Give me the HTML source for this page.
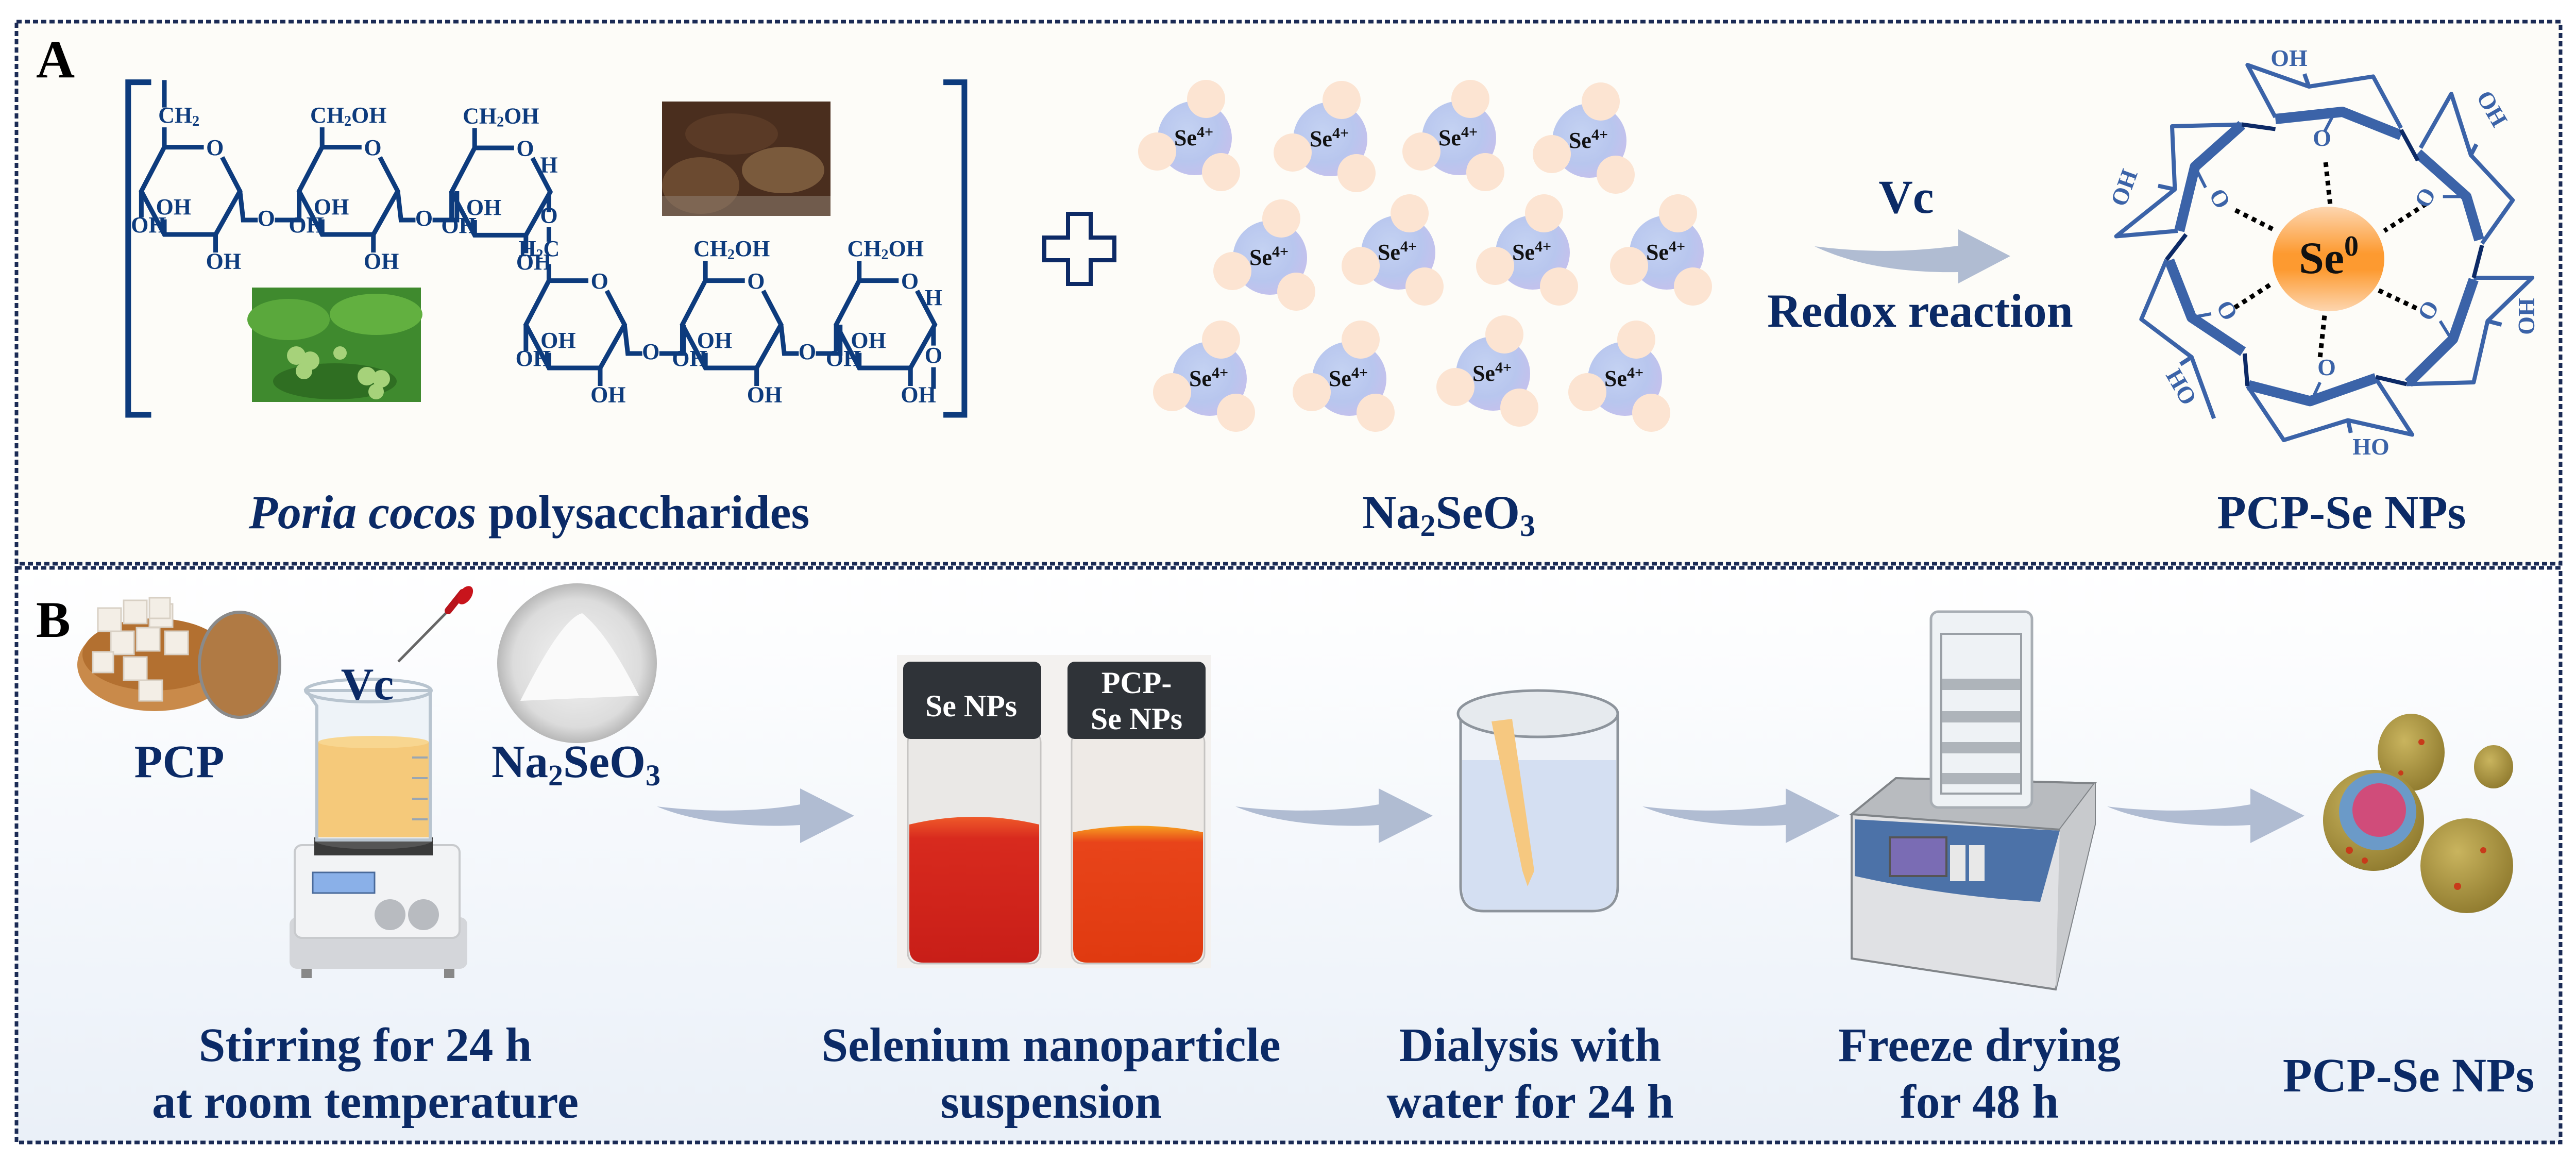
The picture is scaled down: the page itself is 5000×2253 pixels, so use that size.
<!DOCTYPE html>
<html><head><meta charset="utf-8"><style>html,body{margin:0;padding:0;background:#fff}svg{display:block}</style></head><body>
<svg xmlns="http://www.w3.org/2000/svg" width="5000" height="2253" viewBox="0 0 5000 2253" font-family="'Liberation Serif', serif" font-weight="bold">
<defs>
<linearGradient id="bgB" x1="0" y1="0" x2="0" y2="1"><stop offset="0" stop-color="#ffffff"/><stop offset="1" stop-color="#eaf0f8"/></linearGradient>
<radialGradient id="seblue" cx="0.4" cy="0.4" r="0.7"><stop offset="0" stop-color="#c4d2f2"/><stop offset="0.6" stop-color="#b8c6ee"/><stop offset="1" stop-color="#c8bfec"/></radialGradient>
<linearGradient id="se0" x1="0" y1="0" x2="0" y2="1"><stop offset="0" stop-color="#fdd6b0"/><stop offset="0.45" stop-color="#fd9a30"/><stop offset="0.6" stop-color="#fd9a30"/><stop offset="1" stop-color="#fdd6b0"/></linearGradient>
<radialGradient id="gold" cx="0.4" cy="0.35" r="0.7"><stop offset="0" stop-color="#c9b45e"/><stop offset="1" stop-color="#8f7a2e"/></radialGradient>
<radialGradient id="powder" cx="0.5" cy="0.5" r="0.5"><stop offset="0" stop-color="#f4f4f4"/><stop offset="0.8" stop-color="#dcdcdc"/><stop offset="1" stop-color="#b8b8b8"/></radialGradient>
<linearGradient id="red1" x1="0" y1="0" x2="0" y2="1"><stop offset="0" stop-color="#ef5a2a"/><stop offset="0.15" stop-color="#d82a1e"/><stop offset="1" stop-color="#c81e18"/></linearGradient>
<linearGradient id="red2" x1="0" y1="0" x2="0" y2="1"><stop offset="0" stop-color="#f7a020"/><stop offset="0.12" stop-color="#e8441a"/><stop offset="1" stop-color="#e03a10"/></linearGradient>
<g id="ring" fill="none" stroke="#0d3b7d" stroke-width="9" vector-effect="non-scaling-stroke">
  <path d="M0,0 L60,0 M88,28 L115,122 L78,242 L0,242 L-35,122 L0,0" vector-effect="non-scaling-stroke"/>
  <path d="M78,242 L78,292 M-35,122 L-35,195 M0,200 L0,242" vector-effect="non-scaling-stroke"/>
</g>
<g id="ringtxt" fill="#0d3b7d" stroke="none" font-size="44" text-anchor="middle">
  <text transform="translate(77,22) scale(.784,1.429)">O</text>
  <text transform="translate(90,337) scale(.784,1.429)">OH</text>
  <text transform="translate(14,186) scale(.784,1.429)">OH</text>
  <text transform="translate(-24,236) scale(.784,1.429)">OH</text>
</g>
<g id="link" fill="none" stroke="#0d3b7d">
  <path d="M115,122 L120,202 L142,202 M168,202 L205,202 L205,122" stroke-width="9" vector-effect="non-scaling-stroke"/>
  <text transform="translate(155,218) scale(.784,1.429)" fill="#0d3b7d" stroke="none" font-size="44" text-anchor="middle">O</text>
</g>
<g id="ch2oh">
  <path d="M0,0 L0,-55" stroke="#0d3b7d" stroke-width="9" vector-effect="non-scaling-stroke"/>
  <text transform="translate(40,-68) scale(.784,1.429)" fill="#0d3b7d" font-size="44" text-anchor="middle">CH<tspan font-size="28" dy="6">2</tspan><tspan dy="-6">OH</tspan></text>
</g>
<g id="se4">
  <circle cx="0" cy="0" r="72" fill="url(#seblue)"/>
  <circle cx="22" cy="-76" r="37" fill="#fce4d2"/>
  <circle cx="-73" cy="26" r="37" fill="#fce4d2"/>
  <circle cx="51" cy="66" r="37" fill="#fce4d2"/>
  <text x="-2" y="14" font-size="44" text-anchor="middle" fill="#111">Se<tspan font-size="30" dy="-16">4+</tspan></text>
</g>
<path id="arr" d="M0,-18 C100,-6 200,-8 278,-22 L278,-53 L383,0 L278,53 L278,18 C180,24 70,12 0,-18 Z" fill="#b0bcd2"/>
</defs>

<rect x="32" y="42" width="4938" height="1052" fill="#fdfcf8"/>
<rect x="32" y="1102" width="4938" height="1115" fill="url(#bgB)"/>
<rect x="32" y="42" width="4938" height="1052" fill="none" stroke="#1b2b55" stroke-width="7" stroke-dasharray="10 6"/>
<rect x="32" y="1102" width="4938" height="1115" fill="none" stroke="#1b2b55" stroke-width="7" stroke-dasharray="10 6"/>

<text x="70" y="150" font-size="104" fill="#000">A</text>
<text x="70" y="1236" font-size="100" fill="#000">B</text>

<rect x="1285" y="197" width="327" height="222" fill="#4a2e1e"/>
<ellipse cx="1360" cy="360" rx="75" ry="55" fill="#6b4a30"/>
<ellipse cx="1520" cy="330" rx="80" ry="45" fill="#7a5a3c"/>
<ellipse cx="1420" cy="260" rx="90" ry="40" fill="#5a3a26"/>
<rect x="1285" y="380" width="327" height="39" fill="#8a7a6a" opacity="0.6"/>
<rect x="489" y="558" width="328" height="222" fill="#3f8a2e"/>
<ellipse cx="560" cy="620" rx="80" ry="40" fill="#5aa83c"/>
<ellipse cx="730" cy="610" rx="90" ry="40" fill="#62b040"/>
<ellipse cx="650" cy="740" rx="120" ry="35" fill="#2f6e22"/>
<g fill="#a6d27a"><circle cx="575" cy="690" r="18"/><circle cx="602" cy="700" r="18"/><circle cx="590" cy="720" r="16"/><circle cx="660" cy="685" r="13"/><circle cx="712" cy="730" r="18"/><circle cx="740" cy="735" r="17"/><circle cx="730" cy="760" r="15"/></g>

<g transform="scale(1.276,0.7)">
  <path d="M230,228 L195,228 L195,1150 L230,1150 M1435,228 L1467,228 L1467,1150 L1435,1150" fill="none" stroke="#0d3b7d" stroke-width="11" vector-effect="non-scaling-stroke"/>
  <g transform="translate(250,408)"><use href="#ring"/><use href="#ringtxt"/><use href="#link"/>
    <path d="M0,0 L0,-55 M0,-110 L0,-186" stroke="#0d3b7d" stroke-width="9" vector-effect="non-scaling-stroke"/>
    <text transform="translate(22,-68) scale(.784,1.429)" fill="#0d3b7d" font-size="44" text-anchor="middle">CH<tspan font-size="28" dy="6">2</tspan></text>
  </g>
  <g transform="translate(490,408)"><use href="#ring"/><use href="#ringtxt"/><use href="#link"/><use href="#ch2oh"/></g>
  <g transform="translate(722,410)"><use href="#ring"/><use href="#ringtxt"/><use href="#ch2oh"/>
    <path d="M113,128 L113,178 M113,220 L113,260 M113,322 L113,368" stroke="#0d3b7d" stroke-width="9" vector-effect="non-scaling-stroke"/>
    <text transform="translate(113,68) scale(.784,1.429)" fill="#0d3b7d" font-size="44" text-anchor="middle">H</text>
    <text transform="translate(113,208) scale(.784,1.429)" fill="#0d3b7d" font-size="44" text-anchor="middle">O</text>
    <text transform="translate(98,300) scale(.784,1.429)" fill="#0d3b7d" font-size="44" text-anchor="middle">H<tspan font-size="28" dy="6">2</tspan><tspan dy="-6">C</tspan></text>
  </g>
  <g transform="translate(835,778)"><use href="#ring"/><use href="#ringtxt"/><use href="#link"/></g>
  <g transform="translate(1073,778)"><use href="#ring"/><use href="#ringtxt"/><use href="#link"/><use href="#ch2oh"/></g>
  <g transform="translate(1307,778)"><use href="#ring"/><use href="#ringtxt"/><use href="#ch2oh"/>
    <path d="M113,128 L113,180 M113,240 L113,300" stroke="#0d3b7d" stroke-width="9" vector-effect="non-scaling-stroke"/>
    <text transform="translate(113,68) scale(.784,1.429)" fill="#0d3b7d" font-size="44" text-anchor="middle">H</text>
    <text transform="translate(113,228) scale(.784,1.429)" fill="#0d3b7d" font-size="44" text-anchor="middle">O</text>
  </g>
</g>

<text x="1027" y="1025" font-size="92" fill="#0b2a66" text-anchor="middle"><tspan font-style="italic">Poria cocos</tspan> polysaccharides</text>

<path d="M2073,415 h44 v46 h46 v44 h-46 v46 h-44 v-46 h-46 v-44 h46 z" fill="none" stroke="#0d2a66" stroke-width="8"/>

<use href="#se4" x="2319" y="268"/><use href="#se4" x="2582" y="270"/><use href="#se4" x="2832" y="268"/><use href="#se4" x="3085" y="273"/>
<use href="#se4" x="2465" y="500"/><use href="#se4" x="2714" y="490"/><use href="#se4" x="2975" y="490"/><use href="#se4" x="3235" y="490"/>
<use href="#se4" x="2348" y="735"/><use href="#se4" x="2619" y="735"/><use href="#se4" x="2898" y="725"/><use href="#se4" x="3154" y="735"/>

<text x="2812" y="1025" font-size="92" fill="#0b2a66" text-anchor="middle">Na<tspan font-size="60" dy="15">2</tspan><tspan dy="-15">SeO</tspan><tspan font-size="60" dy="15">3</tspan></text>

<text x="3700" y="413" font-size="92" fill="#0b2a66" text-anchor="middle">Vc</text>
<path d="M3522,478 C3620,490 3700,490 3801,477 L3801,445 L3902,497 L3801,550 L3801,528 C3680,530 3590,510 3522,478 Z" fill="#b0bcd2"/>
<text x="3727" y="634" font-size="92" fill="#0b2a66" text-anchor="middle">Redox reaction</text>

<g transform="translate(3300,0) scale(1.084,0.7)" fill="none" stroke-linejoin="round">
  <g stroke="#3b63a8" stroke-width="8">
    <path vector-effect="non-scaling-stroke" d="M1030,325 L980,180 L1090,240 L1205,212 L1255,355"/>
    <path vector-effect="non-scaling-stroke" d="M1290,410 L1345,260 L1380,430 L1455,555 L1400,675"/>
    <path vector-effect="non-scaling-stroke" d="M1385,770 L1490,770 L1410,890 L1385,1060 L1265,1065"/>
    <path vector-effect="non-scaling-stroke" d="M1210,1050 L1275,1205 L1160,1165 L1045,1220 L980,1070"/>
    <path vector-effect="non-scaling-stroke" d="M920,1160 L880,990 L790,885 L835,720"/>
    <path vector-effect="non-scaling-stroke" d="M855,640 L745,655 L850,525 L845,350 L970,345"/>
    <path vector-effect="non-scaling-stroke" d="M1090,240 L1082,205 M1380,430 L1390,400 M1410,890 L1435,900 M1160,1165 L1165,1200 M880,990 L860,1010 M850,525 L820,515"/>
  </g>
  <g stroke="#3b63a8" stroke-width="20">
    <path vector-effect="non-scaling-stroke" d="M1030,330 L1150,310 L1255,375"/>
    <path vector-effect="non-scaling-stroke" d="M1285,425 L1372,545 L1395,665"/>
    <path vector-effect="non-scaling-stroke" d="M1385,775 L1348,940 L1268,1062"/>
    <path vector-effect="non-scaling-stroke" d="M1210,1048 L1092,1112 L982,1068"/>
    <path vector-effect="non-scaling-stroke" d="M972,975 L880,880 L840,722"/>
    <path vector-effect="non-scaling-stroke" d="M858,640 L886,462 L970,346"/>
  </g>
  <g stroke="#0d2a66" stroke-width="8">
    <path vector-effect="non-scaling-stroke" d="M970,345 L1030,358 M1255,360 L1285,445 M1400,680 L1385,770 M1210,1045 L1265,1065 M975,980 L980,1070 M835,720 L870,650"/>
  </g>
  <g stroke="#3b63a8" stroke-width="6">
    <path vector-effect="non-scaling-stroke" d="M1135,315 L1118,365 M1330,545 L1375,545 M1345,940 L1325,890 M1095,1110 L1110,1060 M880,880 L915,870 M886,462 L905,520"/>
  </g>
  <g stroke="#000" stroke-width="9" stroke-dasharray="9 9">
    <path vector-effect="non-scaling-stroke" d="M1120,450 L1128,565 M1300,565 L1225,640 M1215,805 L1290,860 M1118,875 L1110,990 M1020,790 L955,855 M1025,635 L955,580"/>
  </g>
  <ellipse cx="1125" cy="718" rx="100" ry="145" fill="url(#se0)"/>
</g>
<g fill="#3b63a8" font-size="46" text-anchor="middle">
  <text x="4507" y="283">O</text>
  <text x="4710" y="397" transform="rotate(-60 4710 385)">O</text>
  <text x="4716" y="616" transform="rotate(-60 4716 604)">O</text>
  <text x="4516" y="728">O</text>
  <text x="4320" y="616" transform="rotate(60 4320 604)">O</text>
  <text x="4306" y="399" transform="rotate(60 4306 387)">O</text>
  <text x="4443" y="128">OH</text>
  <text x="4835" y="225" transform="rotate(60 4835 212)">OH</text>
  <text x="4902" y="627" transform="rotate(90 4902 614)">HO</text>
  <text x="4602" y="882">HO</text>
  <text x="4232" y="765" transform="rotate(60 4232 752)">HO</text>
  <text x="4125" y="378" transform="rotate(-70 4125 365)">OH</text>
</g>
<text x="4520" y="530" font-size="88" fill="#111" text-anchor="middle">Se<tspan font-size="56" dy="-34">0</tspan></text>
<text x="4545" y="1025" font-size="92" fill="#0b2a66" text-anchor="middle">PCP-Se NPs</text>

<ellipse cx="300" cy="1290" rx="150" ry="90" fill="#c98a4a"/>
<ellipse cx="300" cy="1270" rx="140" ry="70" fill="#b37030"/>
<g fill="#f3eee6" stroke="#d8d0c4" stroke-width="3">
  <rect x="190" y="1180" width="45" height="45"/><rect x="240" y="1165" width="45" height="45"/><rect x="290" y="1172" width="45" height="45"/><rect x="215" y="1225" width="45" height="45"/><rect x="265" y="1218" width="45" height="45"/><rect x="320" y="1225" width="45" height="45"/><rect x="180" y="1265" width="40" height="40"/><rect x="240" y="1275" width="45" height="45"/><rect x="290" y="1160" width="40" height="40"/><rect x="270" y="1320" width="45" height="40"/>
</g>
<ellipse cx="465" cy="1290" rx="78" ry="102" fill="#b07a44" stroke="#8a8a8a" stroke-width="6"/>
<text x="348" y="1508" font-size="90" fill="#0b2a66" text-anchor="middle">PCP</text>

<rect x="562" y="1780" width="345" height="100" rx="14" fill="#d4d6da"/>
<rect x="572" y="1640" width="320" height="180" rx="14" fill="#f2f3f5" stroke="#c8cacd" stroke-width="4"/>
<rect x="607" y="1693" width="120" height="40" fill="#8ab0e8" stroke="#4a6a9a" stroke-width="3"/>
<circle cx="757" cy="1775" r="30" fill="#b8bbc0"/><circle cx="822" cy="1775" r="30" fill="#b8bbc0"/>
<rect x="585" y="1880" width="20" height="18" fill="#888"/><rect x="862" y="1880" width="20" height="18" fill="#888"/>
<rect x="610" y="1625" width="230" height="35" fill="#3a3a3a"/>
<ellipse cx="725" cy="1630" rx="115" ry="18" fill="#555"/>
<path d="M595,1340 L835,1340 L835,1630 L615,1630 L615,1370 Z" fill="#eef3f8" stroke="#b8c4cf" stroke-width="6"/>
<rect x="618" y="1440" width="214" height="185" fill="#f5c97a"/>
<ellipse cx="725" cy="1440" rx="107" ry="12" fill="#f8d690"/>
<ellipse cx="715" cy="1340" rx="122" ry="22" fill="none" stroke="#b8c4cf" stroke-width="6"/>
<g stroke="#9aa6b2" stroke-width="4"><path d="M800,1470 h30 M800,1510 h30 M800,1550 h30 M800,1590 h30"/></g>
<path d="M773,1284 L880,1175" stroke="#666" stroke-width="5"/>
<path d="M870,1185 L898,1150" stroke="#b8141c" stroke-width="14" stroke-linecap="round"/>
<ellipse cx="903" cy="1155" rx="12" ry="20" fill="#c8141c" transform="rotate(35 903 1155)"/>
<text x="713" y="1357" font-size="88" fill="#0b2a66" text-anchor="middle">Vc</text>

<circle cx="1120" cy="1287" r="155" fill="url(#powder)"/>
<path d="M1010,1360 Q1090,1200 1130,1190 Q1180,1230 1240,1350 Z" fill="#fafafa"/>
<text x="1118" y="1508" font-size="90" fill="#0b2a66" text-anchor="middle">Na<tspan font-size="58" dy="16">2</tspan><tspan dy="-16">SeO</tspan><tspan font-size="58" dy="16">3</tspan></text>

<use href="#arr" x="1275" y="1583"/>
<use href="#arr" x="2398" y="1583"/>
<use href="#arr" x="3188" y="1583"/>
<use href="#arr" x="4090" y="1583"/>

<rect x="1741" y="1271" width="610" height="608" fill="#f3f1ef"/>
<rect x="1762" y="1420" width="258" height="450" rx="20" fill="#eae8e6" stroke="#c6c4c2" stroke-width="3"/>
<rect x="2080" y="1420" width="258" height="450" rx="20" fill="#eeeae6" stroke="#c6c4c2" stroke-width="3"/>
<path d="M1765,1600 Q1890,1570 2017,1600 L2017,1840 Q2017,1868 1990,1868 L1792,1868 Q1765,1868 1765,1840 Z" fill="url(#red1)"/>
<path d="M2083,1615 Q2210,1590 2335,1615 L2335,1840 Q2335,1868 2308,1868 L2110,1868 Q2083,1868 2083,1840 Z" fill="url(#red2)"/>
<rect x="1753" y="1284" width="268" height="150" rx="14" fill="#2f3338"/>
<rect x="2072" y="1284" width="268" height="150" rx="14" fill="#2f3338"/>
<text x="1885" y="1390" font-size="60" fill="#fff" text-anchor="middle">Se NPs</text>
<text x="2206" y="1345" font-size="60" fill="#fff" text-anchor="middle">PCP-</text>
<text x="2206" y="1415" font-size="60" fill="#fff" text-anchor="middle">Se NPs</text>

<path d="M2835,1385 L3140,1385 L3140,1720 Q3140,1768 3090,1768 L2880,1768 Q2835,1768 2835,1720 Z" fill="#eef2f8" stroke="#8d949c" stroke-width="5"/>
<path d="M2838,1475 L3137,1475 L3137,1720 Q3137,1765 3090,1765 L2880,1765 Q2838,1765 2838,1720 Z" fill="#d4dff2"/>
<ellipse cx="2985" cy="1385" rx="155" ry="45" fill="#e6eaee" stroke="#8d949c" stroke-width="5"/>
<path d="M2895,1400 L2935,1395 L2978,1690 L2965,1720 L2955,1690 Z" fill="#f6c880"/>
<text x="2970" y="2059" font-size="93" fill="#0b2a66" text-anchor="middle">Dialysis with</text>
<text x="2970" y="2169" font-size="93" fill="#0b2a66" text-anchor="middle">water for 24 h</text>

<path d="M3594,1580 L3680,1510 L4066,1520 L4066,1600 L3990,1920 L3594,1860 Z" fill="#e0e1e4" stroke="#808488" stroke-width="4"/>
<path d="M3594,1580 L3680,1510 L4066,1520 L3998,1610 Z" fill="#b8bbbf" stroke="#808488" stroke-width="4"/>
<path d="M3998,1610 L4066,1520 L4066,1600 L3990,1920 Z" fill="#c8cacd"/>
<path d="M3600,1590 L3998,1612 L3960,1750 Q3780,1740 3600,1700 Z" fill="#4c72a8"/>
<rect x="3668" y="1625" width="110" height="75" fill="#7a6cb4" stroke="#555" stroke-width="4"/>
<rect x="3785" y="1640" width="30" height="70" fill="#e8e8e8"/><rect x="3822" y="1640" width="30" height="70" fill="#e8e8e8"/>
<rect x="3748" y="1187" width="196" height="380" rx="14" fill="#eef2f5" stroke="#a8aeb4" stroke-width="5"/>
<g fill="#aeb4ba"><rect x="3768" y="1317" width="155" height="22"/><rect x="3768" y="1380" width="155" height="22"/><rect x="3768" y="1440" width="155" height="22"/><rect x="3768" y="1500" width="155" height="22"/></g>
<rect x="3768" y="1230" width="155" height="310" fill="none" stroke="#9aa0a6" stroke-width="4"/>
<text x="3842" y="2059" font-size="93" fill="#0b2a66" text-anchor="middle">Freeze drying</text>
<text x="3842" y="2169" font-size="93" fill="#0b2a66" text-anchor="middle">for 48 h</text>

<ellipse cx="4680" cy="1460" rx="65" ry="75" fill="url(#gold)"/>
<ellipse cx="4840" cy="1488" rx="38" ry="42" fill="url(#gold)"/>
<ellipse cx="4788" cy="1680" rx="90" ry="92" fill="url(#gold)"/>
<circle cx="4607" cy="1592" r="98" fill="url(#gold)"/>
<circle cx="4615" cy="1575" r="75" fill="#6b9ac8"/>
<circle cx="4618" cy="1572" r="52" fill="#d04c7a"/>
<g fill="#c83a1a"><circle cx="4560" cy="1650" r="7"/><circle cx="4590" cy="1670" r="6"/><circle cx="4700" cy="1440" r="6"/><circle cx="4770" cy="1720" r="7"/><circle cx="4820" cy="1650" r="6"/><circle cx="4660" cy="1500" r="5"/></g>
<text x="4675" y="2118" font-size="93" fill="#0b2a66" text-anchor="middle">PCP-Se NPs</text>

<text x="709" y="2059" font-size="93" fill="#0b2a66" text-anchor="middle">Stirring for 24 h</text>
<text x="709" y="2169" font-size="93" fill="#0b2a66" text-anchor="middle">at room temperature</text>
<text x="2040" y="2059" font-size="93" fill="#0b2a66" text-anchor="middle">Selenium nanoparticle</text>
<text x="2040" y="2169" font-size="93" fill="#0b2a66" text-anchor="middle">suspension</text>
</svg>
</body></html>
